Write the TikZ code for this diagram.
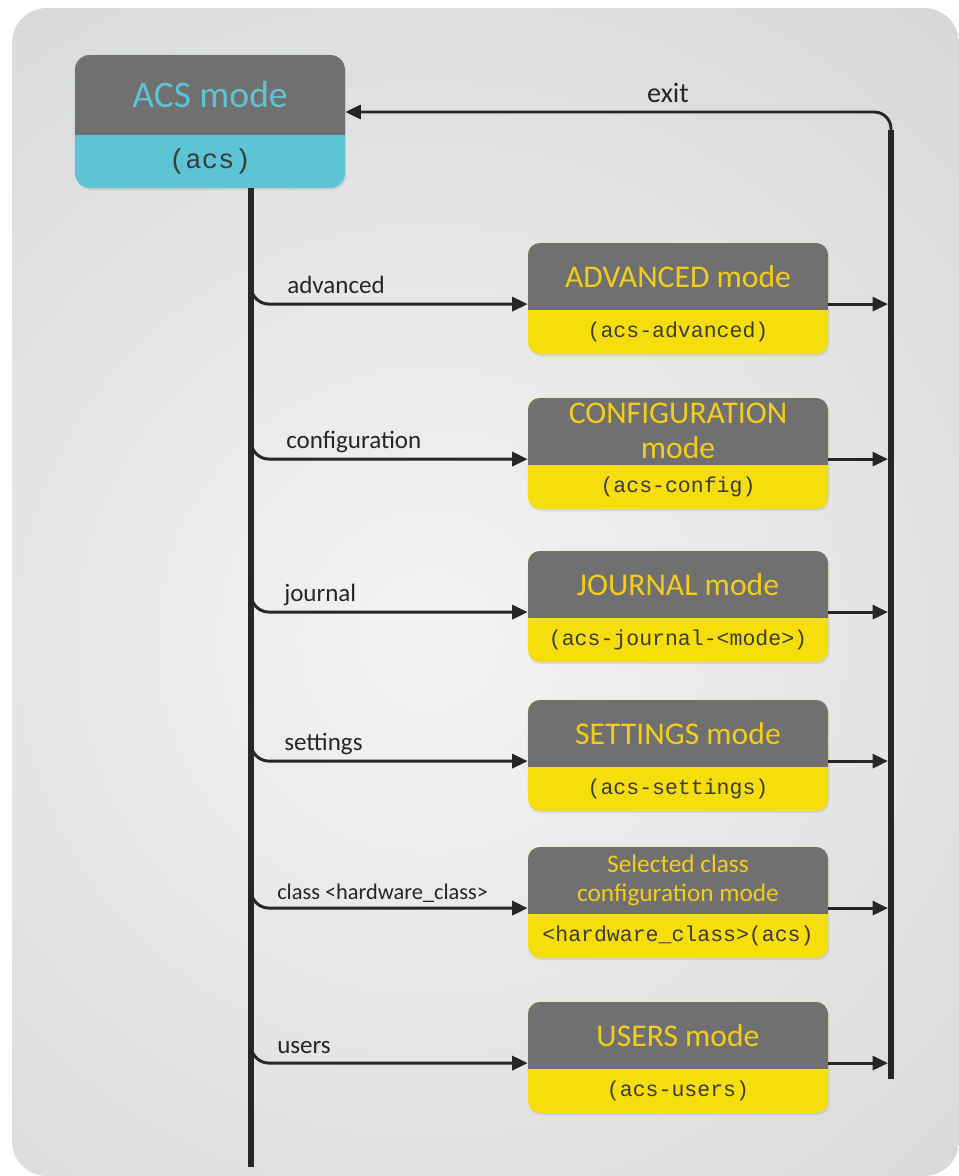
\documentclass[tikz,border=0pt]{standalone}
\usepackage{fontspec}
\setmainfont{Carlito}
\setmonofont{Liberation Mono}
\usetikzlibrary{arrows.meta,calc,positioning,shadows}
\definecolor{ink}{HTML}{262626}
\definecolor{headgray}{HTML}{707070}
\definecolor{tagyellow}{HTML}{F6DD0C}
\definecolor{titleyellow}{HTML}{F3CD1C}
\definecolor{acscyan}{HTML}{5CC4D4}
\definecolor{bgcenter}{HTML}{F4F4F4}
\definecolor{bgedge}{HTML}{B8B9B9}

\begin{document}
\begin{tikzpicture}[x=0.025cm,y=-0.025cm,>={Triangle[length=11pt,width=10pt]},
  modebox/.style={rounded corners=0.3cm,minimum width=7.5cm,minimum height=2.775cm,inner sep=0pt,fill=tagyellow,
    drop shadow={shadow xshift=0.03cm,shadow yshift=-0.05cm,opacity=0.2},
    path picture={\fill[headgray,sharp corners] (path picture bounding box.north west) rectangle ([yshift=-1.675cm]path picture bounding box.north east);}},
  acsbox/.style={rounded corners=0.375cm,minimum width=6.75cm,minimum height=3.325cm,inner sep=0pt,fill=acscyan,
    drop shadow={shadow xshift=0.03cm,shadow yshift=-0.05cm,opacity=0.2},
    path picture={\fill[headgray,sharp corners] (path picture bounding box.north west) rectangle ([yshift=-2cm]path picture bounding box.north east);}},
  modetitle/.style={text=titleyellow,font=\fontsize{22.5}{25}\selectfont,align=center,inner sep=0pt},
  modetag/.style={text=ink!90,font=\ttfamily\fontsize{15.3}{18}\selectfont,inner sep=0pt},
  cmdlabel/.style={anchor=base west,text=ink,font=\fontsize{17.8}{20}\selectfont,inner sep=0pt},
  branch/.style={ink,line width=2.1pt,rounded corners=0.45cm,->},
  bus/.style={ink,line width=4.3pt}]
\useasboundingbox (0,0) rectangle (959,1176);
\begin{scope}
\clip[rounded corners=0.875cm] (12,8) rectangle (959,1176);
\shade[inner color=bgcenter,outer color=bgedge] (430,640) circle (42cm);
\end{scope}

% ACS mode box
\node[acsbox] (acs) at (210,121.5) {};
\node[modetitle,text=acscyan,font=\fontsize{26.7}{30}\selectfont] (acs-t) at ([yshift=-1cm]acs.north) {ACS mode};
\node[modetag,font=\ttfamily\fontsize{19.4}{22}\selectfont] (acs-p) at ([yshift=0.6625cm]acs.south) {(acs)};

% sub modes
\node[modebox] (adv) at (678,298.5) {};
\node[modetitle] (adv-t) at ([yshift=-0.8375cm]adv.north) {ADVANCED mode};
\node[modetag] (adv-p) at ([yshift=0.55cm]adv.south) {(acs-advanced)};

\node[modebox] (conf) at (678,453.5) {};
\node[modetitle] (conf-t) at ([yshift=-0.8375cm]conf.north) {CONFIGURATION\\mode};
\node[modetag] (conf-p) at ([yshift=0.55cm]conf.south) {(acs-config)};

\node[modebox] (jour) at (678,606.5) {};
\node[modetitle] (jour-t) at ([yshift=-0.8375cm]jour.north) {JOURNAL mode};
\node[modetag] (jour-p) at ([yshift=0.55cm]jour.south) {(acs-journal-<mode>)};

\node[modebox] (sett) at (678,755.5) {};
\node[modetitle] (sett-t) at ([yshift=-0.8375cm]sett.north) {SETTINGS mode};
\node[modetag] (sett-p) at ([yshift=0.55cm]sett.south) {(acs-settings)};

\node[modebox] (cls) at (678,902.5) {};
\node[modetitle,font=\fontsize{18}{20.6}\selectfont] (cls-t) at ([yshift=-0.85cm]cls.north) {Selected class\\configuration mode};
\node[modetag] (cls-p) at ([yshift=0.55cm]cls.south) {<hardware\_class>(acs)};

\node[modebox] (usr) at (678,1057.5) {};
\node[modetitle] (usr-t) at ([yshift=-0.8375cm]usr.north) {USERS mode};
\node[modetag] (usr-p) at ([yshift=0.55cm]usr.south) {(acs-users)};

% trunk and bus
\coordinate (trunk-top) at (251,188);
\coordinate (trunk-end) at (251,1167);
\coordinate (bus-top) at (891,130);
\coordinate (bus-end) at (891,1079);

\foreach \m in {adv,conf,jour,sett,cls,usr}{
  \coordinate (\m-in) at ([yshift=-0.14cm]\m.west);
  \draw[branch] ($(\m-in -| trunk-top)+(0,-30)$) |- (\m-in);
  \draw[branch,shorten >=2.15pt] (\m-in -| \m.east) -- (\m-in -| bus-top);
}
\draw[branch,rounded corners=0.42cm] (bus-top) |- ([yshift=0.2375cm]acs.east);
\draw[bus] (trunk-top) -- (trunk-end);
\draw[bus] (bus-top) -- (bus-end);

% commands
\node[cmdlabel,anchor=base,font=\fontsize{20}{22}\selectfont] (exit-l) at (668,102) {exit};
\node[cmdlabel] (adv-l) at ($(adv-in -| trunk-top)+(36,-11)$) {advanced};
\node[cmdlabel] (conf-l) at ($(conf-in -| trunk-top)+(35,-11)$) {configuration};
\node[cmdlabel] (jour-l) at ($(jour-in -| trunk-top)+(33,-11)$) {journal};
\node[cmdlabel] (sett-l) at ($(sett-in -| trunk-top)+(33,-11)$) {settings};
\node[cmdlabel,font=\fontsize{15.9}{18}\selectfont] (cls-l) at ($(cls-in -| trunk-top)+(26,-9)$) {class <hardware\_class>};
\node[cmdlabel] (usr-l) at ($(usr-in -| trunk-top)+(26,-10)$) {users};
\end{tikzpicture}
\end{document}
